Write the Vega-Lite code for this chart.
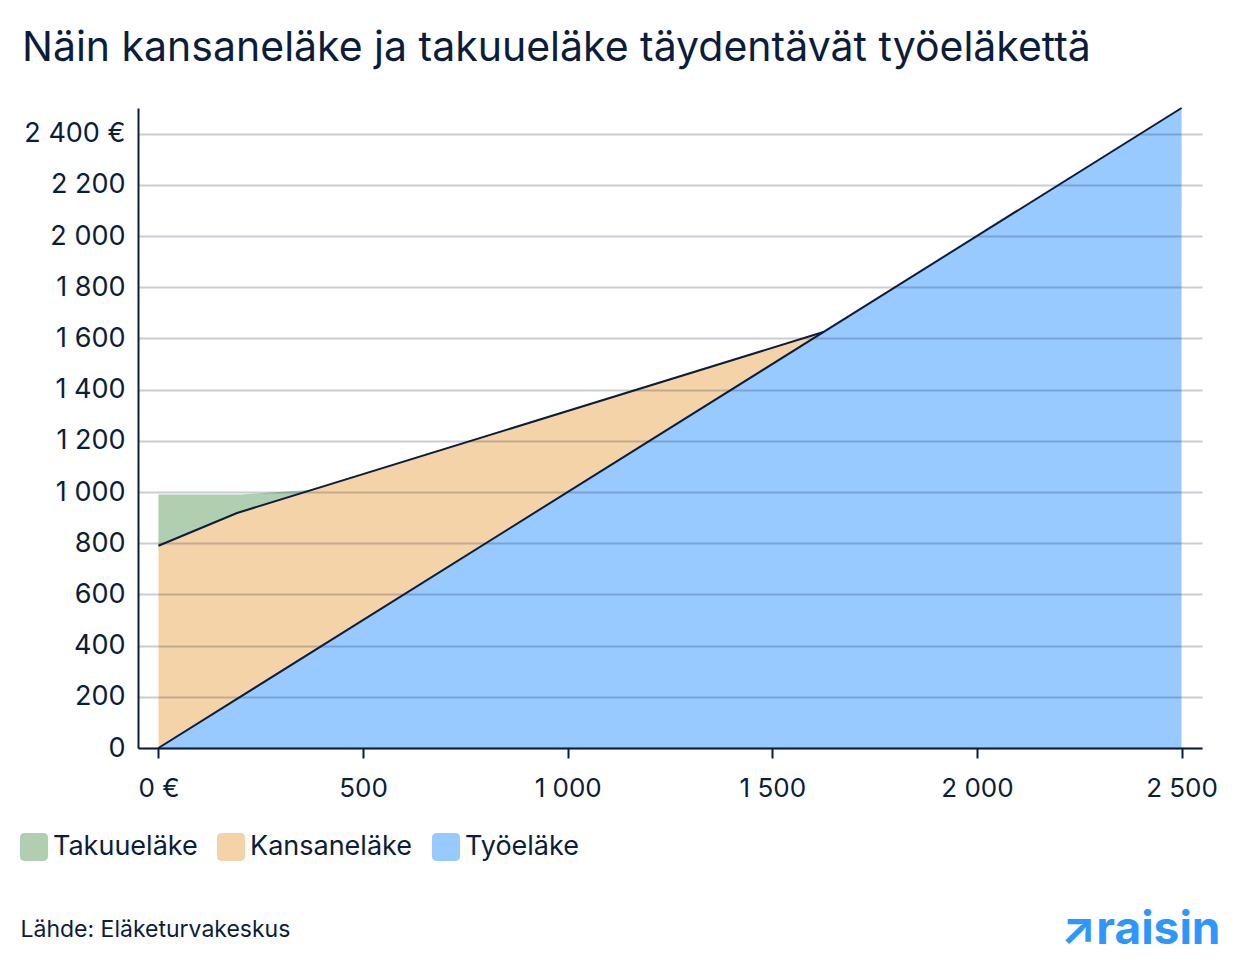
{
  "$schema": "https://vega.github.io/schema/vega-lite/v6.json",
  "description": "Näin kansaneläke ja takuueläke täydentävät työeläkettä",
  "width": 1064,
  "height": 640,
  "autosize": {"type": "none"},
  "padding": {"left": 138, "top": 108, "right": 38, "bottom": 216},
  "title": {
    "text": "Näin kansaneläke ja takuueläke täydentävät työeläkettä",
    "anchor": "start",
    "frame": "group",
    "dx": -116,
    "dy": 43,
    "offset": 45,
    "baseline": "alphabetic",
    "fontSize": 41,
    "fontWeight": "normal",
    "color": "#0b1d3a"
  },
  "datasets": {
    "areas": [
      {"series": "Takuueläke", "x": 0, "lower": 790, "upper": 990},
      {"series": "Takuueläke", "x": 192, "lower": 918, "upper": 990},
      {"series": "Takuueläke", "x": 200, "lower": 922, "upper": 990},
      {"series": "Takuueläke", "x": 376, "lower": 1009, "upper": 1009},
      {"series": "Kansaneläke", "x": 0, "lower": 0, "upper": 790},
      {"series": "Kansaneläke", "x": 192, "lower": 192, "upper": 918},
      {"series": "Kansaneläke", "x": 1625, "lower": 1625, "upper": 1625},
      {"series": "Työeläke", "x": 0, "lower": 0, "upper": 0},
      {"series": "Työeläke", "x": 2500, "lower": 0, "upper": 2500}
    ],
    "lines": [
      {"line": "total", "x": 0, "upper": 790},
      {"line": "total", "x": 192, "upper": 918},
      {"line": "total", "x": 1625, "upper": 1625},
      {"line": "diag", "x": 0, "upper": 0},
      {"line": "diag", "x": 2500, "upper": 2500}
    ]
  },
  "encoding": {
    "x": {
      "field": "x",
      "type": "quantitative",
      "scale": {"domain": [-50, 2550], "nice": false, "zero": false},
      "axis": {
        "values": [0, 500, 1000, 1500, 2000, 2500],
        "labelExpr": "datum.value == 0 ? '0 €' : replace(format(datum.value, ','), ',', ' ')",
        "grid": false,
        "domainColor": "#0b1d3a",
        "domainWidth": 2,
        "tickColor": "#0b1d3a",
        "tickWidth": 2,
        "tickSize": 10,
        "labelFontSize": 26,
        "labelColor": "#0b1d3a",
        "labelPadding": 17,
        "labelFlush": false,
        "title": "Lähde: Eläketurvakeskus",
        "titleFontSize": 23,
        "titleFontWeight": "normal",
        "titleColor": "#0b1d3a",
        "titleAnchor": "start",
        "titleAlign": "left",
        "titleBaseline": "alphabetic",
        "titleX": -118,
        "titleY": 188,
        "zindex": 1
      }
    },
    "y": {
      "field": "upper",
      "type": "quantitative",
      "stack": null,
      "scale": {"domain": [0, 2500], "nice": false},
      "axis": {
        "values": [0, 200, 400, 600, 800, 1000, 1200, 1400, 1600, 1800, 2000, 2200, 2400],
        "labelExpr": "datum.value == 2400 ? '2 400 €' : replace(format(datum.value, ','), ',', ' ')",
        "grid": true,
        "gridColor": "#0b1d3a",
        "gridOpacity": 0.22,
        "gridWidth": 2,
        "domainColor": "#0b1d3a",
        "domainWidth": 2,
        "ticks": false,
        "tickSize": 0,
        "labelFontSize": 27,
        "labelColor": "#0b1d3a",
        "labelPadding": 13,
        "title": "↗raisin",
        "titleAngle": 0,
        "titleAlign": "right",
        "titleBaseline": "alphabetic",
        "titleX": 1082,
        "titleY": 835,
        "titleFontSize": 46,
        "titleFontWeight": "bold",
        "titleColor": "#2e96ff",
        "zindex": 1
      }
    }
  },
  "layer": [
    {
      "data": {"name": "areas"},
      "mark": {"type": "area", "opacity": 1},
      "encoding": {
        "y2": {"field": "lower"},
        "color": {
          "field": "series",
          "type": "nominal",
          "scale": {
            "domain": ["Takuueläke", "Kansaneläke", "Työeläke"],
            "range": ["#b0cfb0", "#f5d3a8", "#99caff"]
          },
          "legend": {
            "orient": "none",
            "legendX": -118,
            "legendY": 725,
            "direction": "horizontal",
            "title": null,
            "padding": 0,
            "symbolType": "M-0.7,-1H0.7A0.3,0.3,0,0,1,1,-0.7V0.7A0.3,0.3,0,0,1,0.7,1H-0.7A0.3,0.3,0,0,1,-1,0.7V-0.7A0.3,0.3,0,0,1,-0.7,-1Z",
            "symbolSize": 784,
            "symbolOpacity": 1,
            "symbolStrokeWidth": 0,
            "labelFontSize": 27,
            "labelColor": "#0b1d3a",
            "labelOffset": 5,
            "labelLimit": 300,
            "columnPadding": 19
          }
        }
      }
    },
    {
      "data": {"name": "lines"},
      "mark": {"type": "line", "color": "#0b1d3a", "strokeWidth": 2},
      "encoding": {
        "detail": {"field": "line", "type": "nominal"}
      }
    }
  ],
  "config": {
    "font": "Inter",
    "view": {"stroke": null}
  }
}
